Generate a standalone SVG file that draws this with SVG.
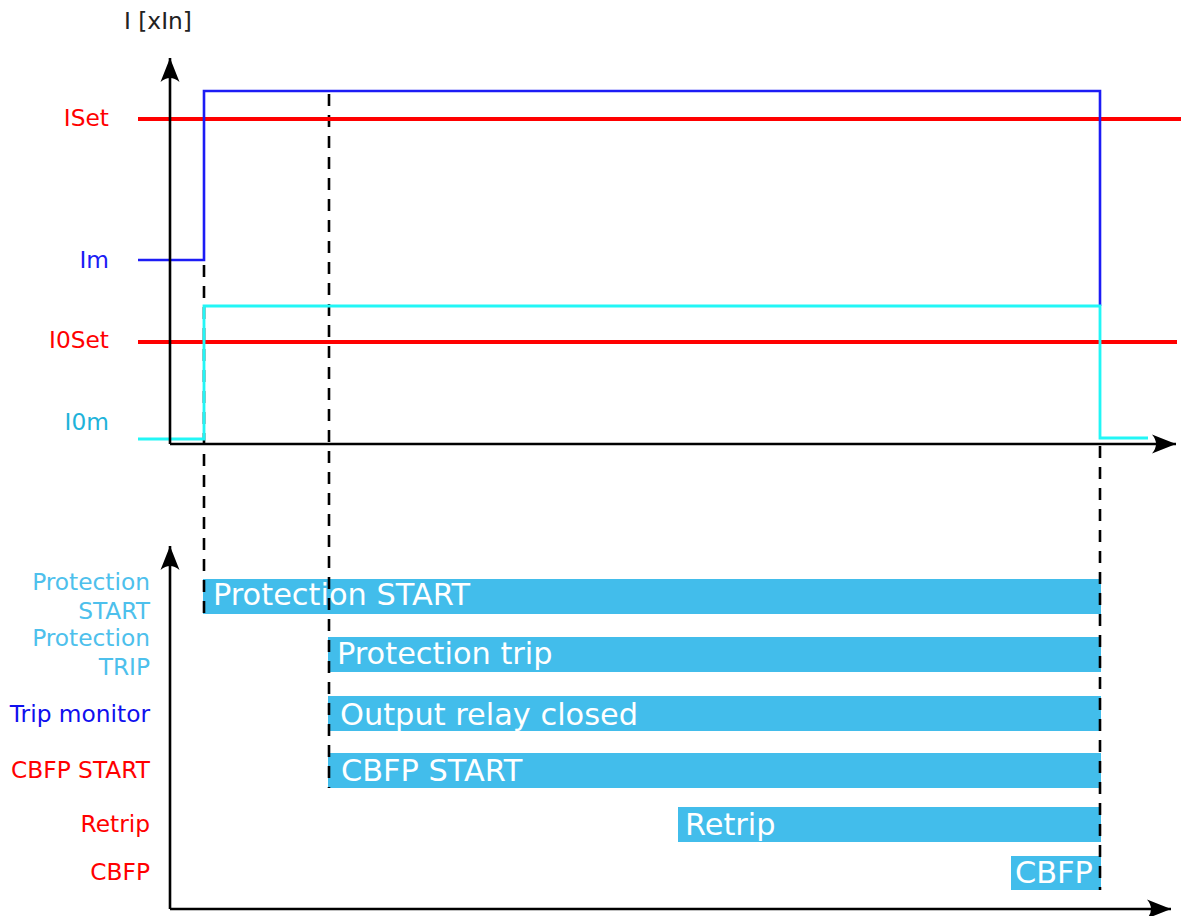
<svg xmlns="http://www.w3.org/2000/svg" width="1188" height="916" viewBox="0 0 1188 916">
<defs>
<marker id="arr" markerUnits="userSpaceOnUse" markerWidth="30" markerHeight="24" refX="0" refY="0" viewBox="-26 -12 30 24" orient="auto" overflow="visible">
<path d="M0,0 L-24,-9.5 Q-16,0 -24,9.5 Z" fill="#000"/>
</marker>
<style>
.lbl{font-family:"DejaVu Sans",sans-serif;font-size:23.3px;text-anchor:end}
.bt{font-family:"DejaVu Sans",sans-serif;font-size:30.4px;fill:#fff}
.bar{fill:#42bdeb}
.axis{stroke:#000;stroke-width:2.6;fill:none}
.dash{stroke:#000;stroke-width:2.6;stroke-dasharray:12,9;fill:none}
.red{stroke:#ff0000;stroke-width:4;fill:none}
.blue{stroke:#1c1cf5;stroke-width:2.6;fill:none}
.cyan{stroke:#22f6f6;stroke-width:2.8;fill:none}
</style>
</defs>
<rect width="1188" height="916" fill="#fff"/>
<g id="labels-top">
<text x="124" y="29" class="lbl" style="text-anchor:start" fill="#222">I [xIn]</text>
<text x="109" y="126" class="lbl" fill="#ff0000">ISet</text>
<text x="109" y="268" class="lbl" fill="#1c1cf5">Im</text>
<text x="109" y="348" class="lbl" fill="#ff0000">I0Set</text>
<text x="109" y="430" class="lbl" fill="#1fb3da">I0m</text>
</g>
<g id="labels-bottom">
<text x="150" y="590" class="lbl" fill="#4dc0ec">Protection</text>
<text x="150" y="619" class="lbl" fill="#4dc0ec">START</text>
<text x="150" y="646" class="lbl" fill="#4dc0ec">Protection</text>
<text x="150" y="675" class="lbl" fill="#4dc0ec">TRIP</text>
<text x="150" y="722" class="lbl" fill="#1010ee">Trip monitor</text>
<text x="150" y="778" class="lbl" fill="#ff0000">CBFP START</text>
<text x="150" y="832" class="lbl" fill="#ff0000">Retrip</text>
<text x="150" y="880" class="lbl" fill="#ff0000">CBFP</text>
</g>
<g id="bars">
<g id="bar-protection-start"><rect class="bar" x="203" y="579" width="898" height="35"/><text class="bt" x="213" y="605">Protection START</text></g>
<g id="bar-protection-trip"><rect class="bar" x="328" y="637" width="773" height="35"/><text class="bt" x="337" y="664">Protection trip</text></g>
<g id="bar-output-relay"><rect class="bar" x="328" y="696" width="773" height="35"/><text class="bt" x="340" y="725">Output relay closed</text></g>
<g id="bar-cbfp-start"><rect class="bar" x="328" y="753" width="773" height="35"/><text class="bt" x="341" y="781">CBFP START</text></g>
<g id="bar-retrip"><rect class="bar" x="678" y="807" width="423" height="35"/><text class="bt" x="685" y="835">Retrip</text></g>
<g id="bar-cbfp"><rect class="bar" x="1011" y="856" width="90" height="34"/><text class="bt" x="1015" y="883">CBFP</text></g>
</g>
<g id="connectors">
<line class="dash" x1="204" y1="265" x2="204" y2="614"/>
<line class="dash" x1="329" y1="94" x2="329" y2="788"/>
<line class="dash" x1="1100" y1="446" x2="1100" y2="890"/>
</g>
<g id="signals">
<line class="red" x1="138" y1="119" x2="1181" y2="119"/>
<line class="red" x1="138" y1="342" x2="1177" y2="342"/>
<polyline class="blue" points="138,260 204,260 204,91 1100,91 1100,306"/>
<polyline class="cyan" points="138,439 204,439 204,306 1100,306 1100,438 1148,438"/>
</g>
<g id="axes">
<line class="axis" x1="170" y1="444" x2="170" y2="58" marker-end="url(#arr)"/>
<line class="axis" x1="170" y1="444" x2="1176" y2="444" marker-end="url(#arr)"/>
<line class="axis" x1="170" y1="909" x2="170" y2="546" marker-end="url(#arr)"/>
<line class="axis" x1="170" y1="909" x2="1171" y2="909" marker-end="url(#arr)"/>
</g>
</svg>
